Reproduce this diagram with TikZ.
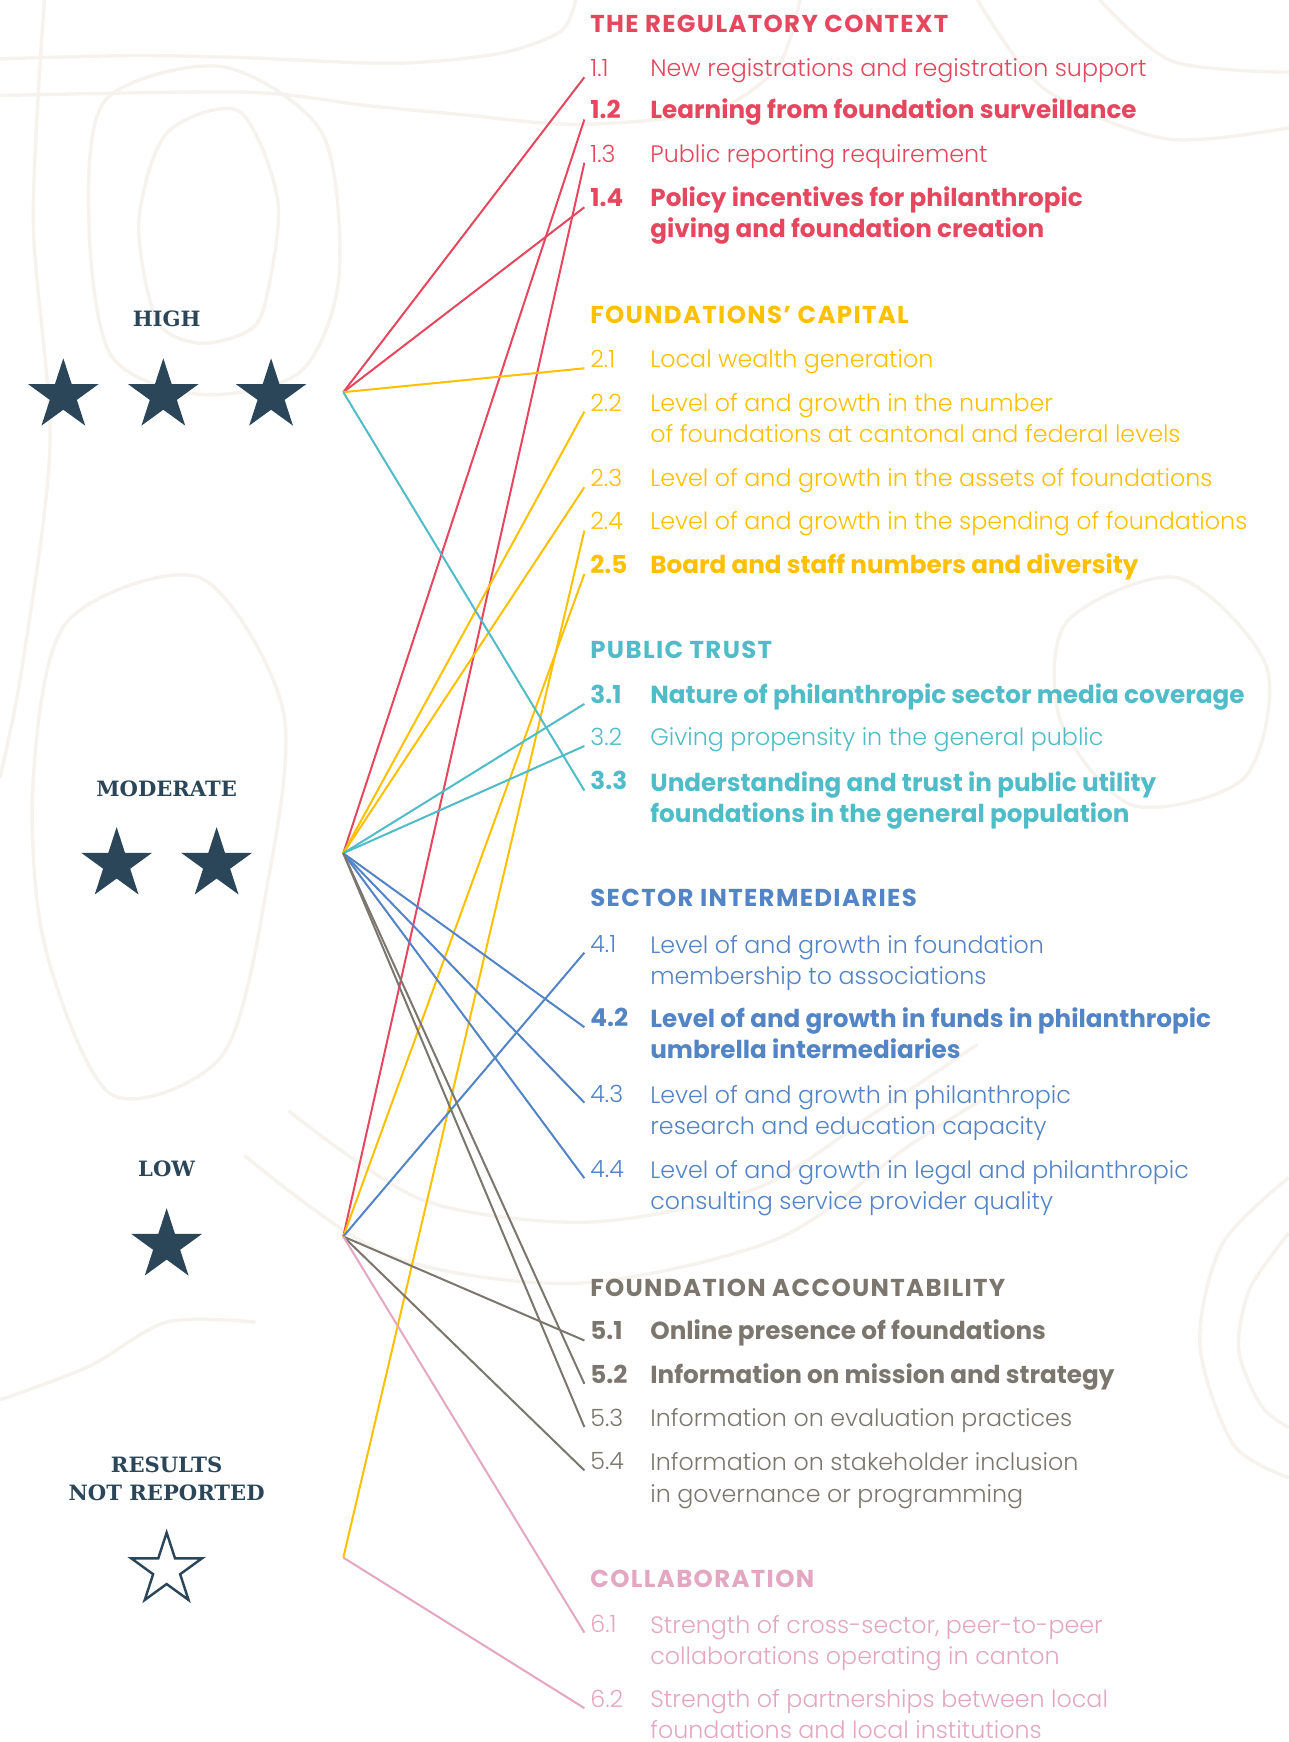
\documentclass[tikz,border=0pt]{standalone}
\usepackage{fontspec}
\usetikzlibrary{shapes.geometric}
\IfFontExistsTF{Poppins Light}{\newfontfamily\lightsf{Poppins Light}}{\newfontfamily\lightsf{Poppins}}
\newfontfamily\boldsf{Poppins Bold}
\newfontfamily\hdrsf{Poppins Bold}[LetterSpace=5.5]
\newfontfamily\slab{DejaVu Serif}

\definecolor{ctxred}{HTML}{E5475F}
\definecolor{capyellow}{HTML}{FFC000}
\definecolor{trustteal}{HTML}{4FBCC8}
\definecolor{interblue}{HTML}{5284C6}
\definecolor{accgray}{HTML}{7B776F}
\definecolor{collpink}{HTML}{E4A7C2}
\definecolor{navy}{HTML}{2B4658}
\definecolor{topo}{HTML}{F6F2ED}

\begin{document}
\begin{tikzpicture}[x=0.5pt,y=-0.5pt,
  idx/.style={anchor=base west, inner xsep=2.5pt, inner ysep=0pt, font=\lightsf\fontsize{10.7}{14}\selectfont},
  idxb/.style={idx, font=\boldsf\fontsize{11.1}{14}\selectfont},
  txt/.style={anchor=base west, inner sep=0pt, align=left, font=\lightsf\fontsize{10.7}{14}\selectfont},
  txtb/.style={txt, font=\boldsf\fontsize{11.1}{14}\selectfont},
  hdr/.style={anchor=base west, inner sep=0pt, font=\hdrsf\fontsize{11}{14}\selectfont},
  rank/.style={text=navy, align=center, font=\slab\bfseries\fontsize{9.5}{12.5}\selectfont},
  fullstar/.style={star, star points=5, star point ratio=2.618, minimum size=33.5pt, inner sep=0pt, fill=navy},
  emptystar/.style={fullstar, fill=none, draw=navy, line width=1.1pt},
  link/.style={line width=0.9pt},
  contour/.style={topo, line width=1.5pt}]
\fill[white] (0,0) rectangle (1160,1568);
\useasboundingbox (0,0) rectangle (1160,1568);

% background contour lines
\draw[contour] plot[smooth] coordinates {(0,53) (120,50) (222,52) (355,57) (450,48) (505,28) (518,0)};
\draw[contour] plot[smooth] coordinates {(0,86) (222,83) (330,95) (414,103) (520,112) (640,100) (700,60) (720,0)};
\draw[contour] plot[smooth cycle] coordinates {(150,120) (215,100) (250,180) (240,267) (225,297) (180,309) (141,288) (125,200)};
\draw[contour] plot[smooth cycle] coordinates {(95,90) (200,60) (290,120) (305,250) (270,335) (180,355) (100,320) (80,200)};
\draw[contour] plot[smooth] coordinates {(40,0) (30,200) (45,400) (20,600) (0,700)};
\draw[contour] plot[smooth cycle] coordinates {(60,560) (180,520) (255,640) (240,800) (200,950) (100,985) (40,850) (30,700)};
\draw[contour] plot[smooth] coordinates {(220,1040) (350,1130) (520,1155) (700,1115) (820,1030) (900,980)};
\draw[contour] plot[smooth] coordinates {(260,1000) (380,1080) (530,1100) (680,1070) (790,1000) (880,940)};
\draw[contour] plot[smooth] coordinates {(1160,1060) (1100,1120) (1080,1210) (1110,1300) (1160,1330)};
\draw[contour] plot[smooth] coordinates {(1160,1110) (1125,1160) (1115,1215) (1135,1265) (1160,1285)};
\draw[contour] plot[smooth] coordinates {(880,0) (940,80) (1050,125) (1160,115)};
\draw[contour] plot[smooth] coordinates {(990,0) (1055,55) (1160,65)};
\draw[contour] plot[smooth cycle] coordinates {(960,560) (1060,520) (1140,600) (1120,700) (1020,725) (955,650)};
\draw[contour] plot[smooth] coordinates {(0,1260) (80,1230) (150,1190) (230,1190)};

% rating levels
\node[rank] (high) at (150,287) {HIGH};
\node[rank] (moderate) at (150,710) {MODERATE};
\node[rank] (low) at (150,1052) {LOW};
\node[rank] (nr) at (150,1331) {RESULTS\\NOT REPORTED};
\node[fullstar] (s31) at (57,356) {};
\node[fullstar] (s32) at (147,356) {};
\node[fullstar] (s33) at (244,356) {};
\node[fullstar] (s21) at (105,778) {};
\node[fullstar] (s22) at (195,778) {};
\node[fullstar] (s11) at (150,1121) {};
\node[emptystar] (s01) at (150,1413) {};
\coordinate (hhigh) at (309,353);
\coordinate (hmod) at (309,768);
\coordinate (hlow) at (309,1113);
\coordinate (hnr) at (309,1402);

% 1 regulatory context
\begin{scope}[ctxred]
\node[hdr] (h1) at (531,29) {THE REGULATORY CONTEXT};
\node[idx] (n11) at (526,69) {1.1};   \node[txt] (t11) at (585,69) {New registrations and registration support};
\node[idxb] (n12) at (526,107) {1.2}; \node[txtb] (t12) at (585,107) {Learning from foundation surveillance};
\node[idx] (n13) at (526,146) {1.3};  \node[txt] (t13) at (585,146) {Public reporting requirement};
\node[idxb] (n14) at (526,186) {1.4}; \node[txtb] (t14) at (585,214) {Policy incentives for philanthropic\\giving and foundation creation};
\draw[link] (hhigh) -- (n11.south west);
\draw[link] (hhigh) -- (n14.south west);
\draw[link] (hmod) -- (n12.south west);
\draw[link] (hlow) -- (n13.south west);
\end{scope}

% 2 foundations' capital
\begin{scope}[capyellow]
\node[hdr] (h2) at (531,291) {FOUNDATIONS’ CAPITAL};
\node[idx] (n21) at (526,331) {2.1};  \node[txt] (t21) at (585,331) {Local wealth generation};
\node[idx] (n22) at (526,370) {2.2};  \node[txt] (t22) at (585,398) {Level of and growth in the number\\of foundations at cantonal and federal levels};
\node[idx] (n23) at (526,438) {2.3};  \node[txt] (t23) at (585,438) {Level of and growth in the assets of foundations};
\node[idx] (n24) at (526,477) {2.4};  \node[txt] (t24) at (585,477) {Level of and growth in the spending of foundations};
\node[idxb] (n25) at (526,516) {2.5}; \node[txtb] (t25) at (585,516) {Board and staff numbers and diversity};
\draw[link] (hhigh) -- (n21.south west);
\draw[link] (hmod) -- (n22.south west);
\draw[link] (hmod) -- (n23.south west);
\draw[link] (hnr) -- (n24.south west);
\draw[link] (hlow) -- (n25.south west);
\end{scope}

% 3 public trust
\begin{scope}[trustteal]
\node[hdr] (h3) at (531,593) {PUBLIC TRUST};
\node[idxb] (n31) at (526,633) {3.1}; \node[txtb] (t31) at (585,633) {Nature of philanthropic sector media coverage};
\node[idx] (n32) at (526,671) {3.2};  \node[txt] (t32) at (585,671) {Giving propensity in the general public};
\node[idxb] (n33) at (526,711) {3.3}; \node[txtb] (t33) at (585,740) {Understanding and trust in public utility\\foundations in the general population};
\draw[link] (hhigh) -- (n33.south west);
\draw[link] (hmod) -- (n31.south west);
\draw[link] (hmod) -- (n32.south west);
\end{scope}

% 4 sector intermediaries
\begin{scope}[interblue]
\node[hdr] (h4) at (531,816) {SECTOR INTERMEDIARIES};
\node[idx] (n41) at (526,857) {4.1};  \node[txt] (t41) at (585,886) {Level of and growth in foundation\\membership to associations};
\node[idxb] (n42) at (526,924) {4.2}; \node[txtb] (t42) at (585,953) {Level of and growth in funds in philanthropic\\umbrella intermediaries};
\node[idx] (n43) at (526,992) {4.3};  \node[txt] (t43) at (585,1021) {Level of and growth in philanthropic\\research and education capacity};
\node[idx] (n44) at (526,1060) {4.4}; \node[txt] (t44) at (585,1089) {Level of and growth in legal and philanthropic\\consulting service provider quality};
\draw[link] (hlow) -- (n41.south west);
\draw[link] (hmod) -- (n42.south west);
\draw[link] (hmod) -- (n43.south west);
\draw[link] (hmod) -- (n44.south west);
\end{scope}

% 5 foundation accountability
\begin{scope}[accgray]
\node[hdr] (h5) at (531,1167) {FOUNDATION ACCOUNTABILITY};
\node[idxb] (n51) at (526,1206) {5.1}; \node[txtb] (t51) at (585,1206) {Online presence of foundations};
\node[idxb] (n52) at (526,1245) {5.2}; \node[txtb] (t52) at (585,1245) {Information on mission and strategy};
\node[idx] (n53) at (526,1284) {5.3};  \node[txt] (t53) at (585,1284) {Information on evaluation practices};
\node[idx] (n54) at (526,1323) {5.4};  \node[txt] (t54) at (585,1352) {Information on stakeholder inclusion\\in governance or programming};
\draw[link] (hlow) -- (n51.south west);
\draw[link] (hmod) -- (n52.south west);
\draw[link] (hmod) -- (n53.south west);
\draw[link] (hlow) -- (n54.south west);
\end{scope}

% 6 collaboration
\begin{scope}[collpink]
\node[hdr] (h6) at (531,1429) {COLLABORATION};
\node[idx] (n61) at (526,1469) {6.1};  \node[txt] (t61) at (585,1498) {Strength of cross-sector, peer-to-peer\\collaborations operating in canton};
\node[idx] (n62) at (526,1537) {6.2};  \node[txt] (t62) at (585,1565) {Strength of partnerships between local\\foundations and local institutions};
\draw[link] (hlow) -- (n61.south west);
\draw[link] (hnr) -- (n62.south west);
\end{scope}
\end{tikzpicture}
\end{document}
